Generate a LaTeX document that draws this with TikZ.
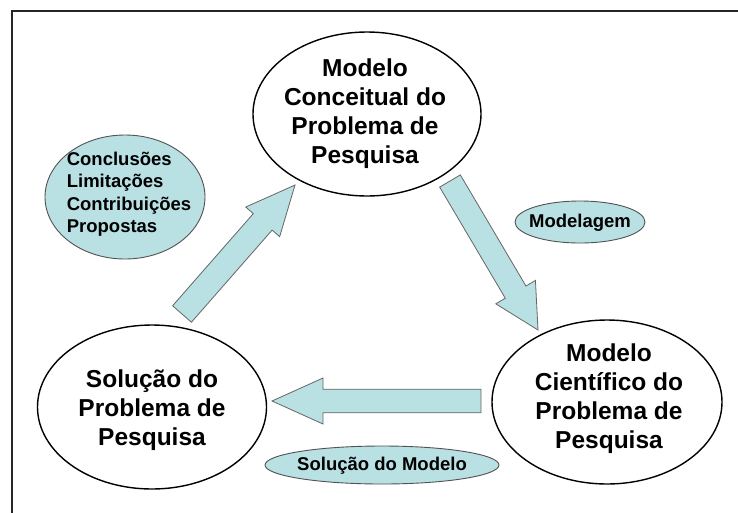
\documentclass[tikz,border=0pt]{standalone}
\usepackage{fontspec}
\setmainfont{Liberation Sans}
\usetikzlibrary{shapes.geometric,calc}
\definecolor{cyanfill}{HTML}{B9E0E3}
\definecolor{edgegray}{HTML}{666666}
\tikzset{
  bigell/.style={ellipse,draw=black,line width=1.4pt,fill=white,inner sep=0pt},
  smallell/.style={ellipse,draw=edgegray!80!black,line width=0.9pt,fill=cyanfill,inner sep=0pt},
  bigtxt/.style={align=center,font=\fontsize{24.5}{29}\selectfont\bfseries,inner sep=0pt},
  smalltxt/.style={font=\fontsize{18.5}{22.5}\selectfont\bfseries,inner sep=0pt},
  blockfill/.style={fill=cyanfill,draw=edgegray,line width=0.8pt,line join=miter},
}
% #1 tail, #2 tip, #3 shaft half width, #4 head half width, #5 head length, #6 name of head base
\newcommand\blockarr[6]{%
  \coordinate (#6) at ($(#2)!#5!(#1)$);
  \path[blockfill] ($(#1)!#3!90:(#2)$) -- ($(#6)!#3!-90:(#1)$) -- ($(#6)!#4!-90:(#1)$) -- (#2)
     -- ($(#6)!#4!90:(#1)$) -- ($(#6)!#3!90:(#1)$) -- ($(#1)!#3!-90:(#2)$) -- cycle;
}
\begin{document}
\begin{tikzpicture}[x=1pt,y=-1pt]
\useasboundingbox (0,0) rectangle (738,512);
\fill[white] (0,0) rectangle (738,512);
\draw[line width=1.5pt,black!85] (12,11) rectangle (760,530);

% arrows
\coordinate (a1tail) at (182,314);
\coordinate (a1tip) at (295,185);
\coordinate (a2tail) at (450,181);
\coordinate (a2tip) at (538,330);
\coordinate (a3tail) at (481,401);
\coordinate (a3tip) at (272,401);
\blockarr{a1tail}{a1tip}{12.5pt}{22.5pt}{49pt}{a1base}
\blockarr{a2tail}{a2tip}{12pt}{23pt}{44pt}{a2base}
\blockarr{a3tail}{a3tip}{11.8pt}{23pt}{51pt}{a3base}

% big ellipses
\node[bigell,minimum width=228pt,minimum height=164pt] (conc) at (367,114) {};
\node[bigtxt] (conctxt) at (365,114) {Modelo\\Conceitual do\\Problema de\\Pesquisa};

\node[bigell,minimum width=229pt,minimum height=164pt] (sol) at (152,407) {};
\node[bigtxt] (soltxt) at (152,410) {Solução do\\Problema de\\Pesquisa};

\node[bigell,minimum width=230pt,minimum height=164pt] (cien) at (607,402) {};
\node[bigtxt] (cientxt) at (609,399) {Modelo\\Científico do\\Problema de\\Pesquisa};

% small ellipses
\node[smallell,minimum width=160pt,minimum height=124pt] (concl) at (125,197) {};
\node[smalltxt,align=left] (concltxt) at (129,194) {Conclusões\\Limitações\\Contribuições\\Propostas};

\node[smallell,minimum width=130pt,minimum height=42pt] (model) at (580,222) {};
\node[smalltxt] (modeltxt) at (580,223) {Modelagem};

\node[smallell,minimum width=234pt,minimum height=38pt] (solmod) at (382,465) {};
\node[smalltxt] (solmodtxt) at (382,466) {Solução do Modelo};
\end{tikzpicture}
\end{document}
